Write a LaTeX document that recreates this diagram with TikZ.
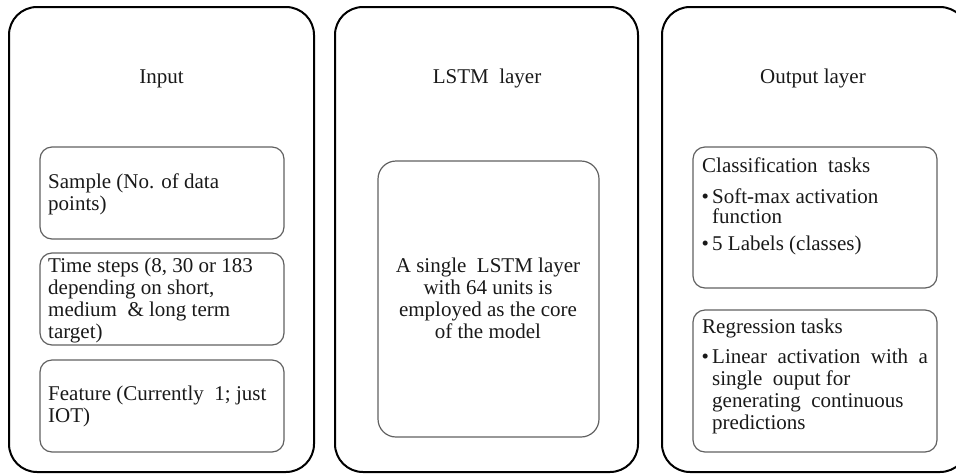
\documentclass[tikz,border=0pt]{standalone}
\usepackage{fontspec}
\setmainfont{Liberation Serif}
\newcommand\fs{\fontsize{21}{22}\selectfont}
\newcommand\bfs{\fontsize{21}{21}\selectfont}
\begin{document}
\begin{tikzpicture}[x=1pt,y=-1pt,
  outer/.style={draw=black, line width=2pt, rounded corners=28pt, inner sep=0},
  inner/.style={draw=black!62, line width=1.2pt, rounded corners=12pt, inner sep=0},
  title/.style={anchor=base, inner sep=0, font=\fs, text=black!90},
  txt/.style={anchor=north west, inner sep=0, align=left, font=\fs, text=black!90},
  ctxt/.style={anchor=north, inner sep=0, align=center, font=\fs, text=black!90},
  line/.style={anchor=base west, inner sep=0, font=\fs, text=black!90},
  bul/.style={anchor=base west, inner sep=0, font=\bfs, text=black!90},
]
\useasboundingbox (0,0) rectangle (956,475);
\clip (0,0) rectangle (956,475);

% outer panels
\node[outer, minimum width=305pt, minimum height=465pt] (inbox) at (161.5,239.5) {};
\node[outer, minimum width=303pt, minimum height=465pt] (lstmbox) at (486.5,239.5) {};
\node[outer, minimum width=306pt, minimum height=465pt] (outbox) at (815,239.5) {};

% titles
\node[title] (tin) at (161.5,83) {Input};
\node[title] (tlstm) at (487,83) {LSTM\ \ layer};
\node[title] (tout) at (813,83) {Output layer};

% input column
\node[inner, minimum width=244pt, minimum height=92pt] (sample) at (162,193) {};
\node[inner, minimum width=244pt, minimum height=92pt] (tsteps) at (162,299) {};
\node[inner, minimum width=244pt, minimum height=92pt] (feat) at (162,406) {};
\node[txt] (sampletxt) at (48,172.6) {\strut Sample (No. of data\\points)};
\node[txt] (tstepstxt) at (48,256.6) {\strut Time steps (8, 30 or 183\\depending on short,\\medium \ \& long term\\target)};
\node[txt] (feattxt) at (48,384.6) {\strut Feature (Currently \ 1; just\\IOT)};

% LSTM column
\node[inner, rounded corners=18pt, minimum width=221pt, minimum height=276pt] (core) at (488.5,299) {};
\node[ctxt] (coretxt) at (488,256.6) {\strut A single \ LSTM layer\\with 64 units is\\employed as the core\\of the model};

% output column
\node[inner, minimum width=244pt, minimum height=141pt] (cls) at (815,217.5) {};
\node[inner, minimum width=244pt, minimum height=142pt] (reg) at (815,381) {};

\node[line] (clstitle) at (702,172) {Classification \ tasks};
\node[bul] (b1) at (701.5,203) {\textbullet};
\node[txt] (b1txt) at (712,187.6) {\strut Soft-max activation\\[-2pt]function};
\node[bul] (b2) at (701.5,250) {\textbullet};
\node[line] (b2txt) at (712,250) {5 Labels (classes)};

\node[line] (regtitle) at (702,333) {Regression tasks};
\node[bul] (b3) at (701.5,363) {\textbullet};
\node[txt] (b3txt) at (712,347.6) {\strut Linear \ activation \ with \ a\\single \ ouput for\\generating \ continuous\\predictions};
\end{tikzpicture}
\end{document}
